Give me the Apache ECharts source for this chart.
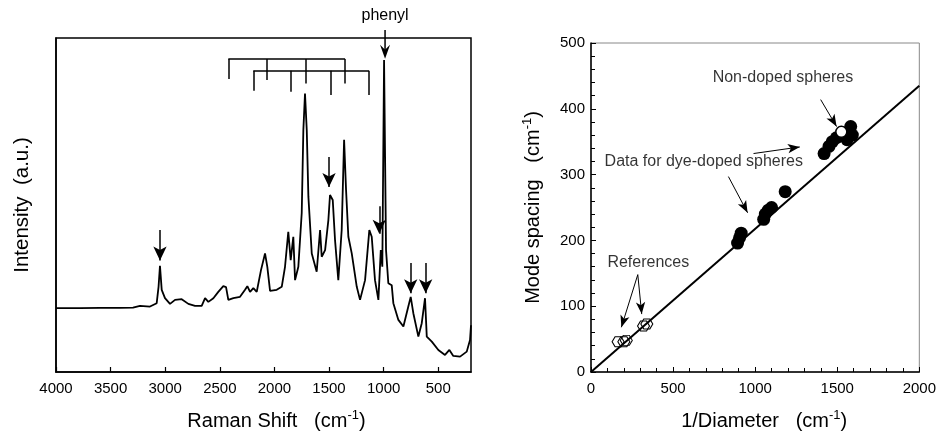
<!DOCTYPE html>
<html>
<head>
<meta charset="utf-8">
<script src="https://cdn.jsdelivr.net/npm/echarts@6/dist/echarts.min.js"></script>
<style>
html,body{margin:0;padding:0;background:#fff;}
#main{width:939px;height:437px;}
</style>
</head>
<body>
<div id="main"></div>
<script>
// ---------- Left panel: Raman spectrum ----------
const ramanShift = [4000,3780,3597,3414,3295,3231,3139,3078,3061,3048,3032,3002,2956,2910,2849,2788,2727,2666,2635,2605,2559,2514,2468,2443,2422,2376,2315,2269,2248,2223,2193,2162,2123,2086,2065,2040,1979,1933,1903,1873,1851,1827,1811,1781,1750,1735,1720,1704,1689,1658,1613,1582,1567,1536,1506,1491,1466,1445,1415,1384,1362,1344,1323,1292,1246,1216,1170,1131,1109,1079,1048,1026,1012,996,978,957,926,911,865,819,774,752,728,682,651,621,605,559,499,438,398,362,300,239,209,200];
const intensity = [19.1,19.1,19.2,19.2,19.3,19.8,19.6,20.6,25.5,31.8,24.6,22.1,20.4,21.6,21.8,20.4,19.8,19.8,22.1,21.0,22.1,24.0,25.7,25.4,21.6,22.1,22.5,24.6,25.7,24.0,25.1,24.0,30.5,35.5,31.5,24.3,24.6,25.5,31.5,42.0,33.5,40.5,27.5,31.5,47.6,72.5,83.4,72.5,52.5,35.5,30.0,42.5,34.5,36.5,45.5,53.0,51.5,39.5,27.5,42.5,69.5,54.5,40.5,35.5,25.5,21.6,27.5,42.5,40.5,27.5,21.6,36.5,31.5,93.4,36.5,26.6,26.0,20.6,15.6,13.6,19.6,22.5,17.6,10.6,14.6,22.1,10.6,9.1,6.6,5.1,6.6,4.8,4.6,6.1,9.6,14];
const ramanTicks = [4000,3500,3000,2500,2000,1500,1000,500];

// peak-marker arrows (wavenumber, start intensity, end intensity)
const peakArrowX = [3048, 1500, 1040, 752, 615];
const peakArrowFrom = [42.5, 64.4, 49.6, 32.6, 32.6];
const peakArrowTo = [33.4, 55.4, 41.4, 23.6, 23.6];
// phenyl arrow (starts above the frame)
const phenylArrow = {x: 987, from: 102.4, to: 93.8, label: 'phenyl', labelY: 106.6};
// mode-spacing brackets
const upperBracketX = [2422, 2070, 1710, 1353];
const upperBracketTop = 93.7;
const upperBracketEnds = [87.7, 87.4, 86.4, 86.4];
const lowerBracketX = [2193, 1848, 1484, 1134];
const lowerBracketTop = 90.2;
const lowerBracketEnds = [84.2, 83.9, 82.9, 82.9];

// ---------- Right panel: mode spacing ----------
const dyeX = [893, 905, 915, 1052, 1062, 1080, 1100, 1183, 1420, 1450, 1470, 1495, 1560, 1582, 1592];
const dyeY = [196, 204, 211, 232, 240, 246, 250, 274, 332, 343, 350, 356, 353, 373, 360];
const nonDopedX = [1525];
const nonDopedY = [365];
const refX = [165, 200, 215, 320, 340];
const refY = [46, 46, 48, 70, 73];
const fitX = [0, 2000];
const fitY = [0, 435];

const zip = (a, b) => a.map((v, i) => [v, b[i]]);
const FONT = 'Liberation Sans';
const black = '#000';

// markLine items for left panel
const leftMarks = [];
peakArrowX.forEach((x, i) => {
  leftMarks.push([{coord: [x, peakArrowFrom[i]]}, {coord: [x, peakArrowTo[i]]}]);
});
function bracket(xs, top, ends) {
  leftMarks.push([{coord: [xs[0], top], symbol: 'none'}, {coord: [xs[xs.length - 1], top], symbol: 'none'}]);
  xs.forEach((x, i) => leftMarks.push([{coord: [x, top], symbol: 'none'}, {coord: [x, ends[i]], symbol: 'none'}]));
}
bracket(upperBracketX, upperBracketTop, upperBracketEnds);
bracket(lowerBracketX, lowerBracketTop, lowerBracketEnds);

// right panel arrows
const rightArrows = [
  [[1399, 414], [1496, 373]],
  [[990, 332], [1272, 342]],
  [[837, 297], [954, 242]],
  [[285, 148], [185, 68]],
  [[285, 148], [309, 88]]
];
const rightLabels = [
  [1169, 447, 'Non-doped spheres'],
  [687, 320, 'Data for dye-doped spheres'],
  [349, 167, 'References']
];

const titleRich = {
  n: {fontSize: 20, fontFamily: FONT, color: black, lineHeight: 24},
  s: {fontSize: 13, fontFamily: FONT, color: black, verticalAlign: 'top', lineHeight: 24, padding: [0, 0, 10, 0]}
};
const plain = v => String(v);

const chart = echarts.init(document.getElementById('main'), null, {renderer: 'canvas'});
chart.setOption({
  animation: false,
  backgroundColor: '#fff',
  textStyle: {fontFamily: FONT},
  grid: [
    {left: 56, right: 468, top: 38, bottom: 65, show: true, borderColor: black, borderWidth: 1.5, backgroundColor: 'transparent'},
    {left: 591, right: 16, top: 43, bottom: 64, show: true, borderColor: '#888', borderWidth: 1, backgroundColor: 'transparent'}
  ],
  xAxis: [
    {
      gridIndex: 0, type: 'value', inverse: true, min: 200, max: 4000,
      axisLine: {lineStyle: {color: black, width: 1.5}},
      axisTick: {inside: true, length: 5, customValues: ramanTicks, lineStyle: {color: black, width: 1.2}},
      axisLabel: {customValues: ramanTicks, formatter: plain, fontSize: 15, color: black, fontFamily: FONT, margin: 9},
      splitLine: {show: false},
      name: '{n|Raman Shift   (cm}{s|-1}{n|)}',
      nameLocation: 'middle', nameGap: 37,
      nameTextStyle: {rich: titleRich, padding: [0, 0, 0, 26]}
    },
    {
      gridIndex: 1, type: 'value', min: 0, max: 2000, interval: 500,
      axisLine: {lineStyle: {color: black, width: 1.5}},
      axisTick: {inside: true, length: 5, lineStyle: {color: black}},
      minorTick: {show: true, splitNumber: 5, length: 4, lineStyle: {color: black}},
      axisLabel: {formatter: plain, fontSize: 15, color: black, fontFamily: FONT, margin: 9},
      splitLine: {show: false},
      name: '{n|1/Diameter   (cm}{s|-1}{n|)}',
      nameLocation: 'middle', nameGap: 37,
      nameTextStyle: {rich: titleRich, padding: [0, 0, 0, 18]}
    }
  ],
  yAxis: [
    {
      gridIndex: 0, type: 'value', min: 0, max: 100,
      axisLine: {show: true, lineStyle: {color: black, width: 1.5}},
      axisTick: {show: false}, axisLabel: {show: false}, splitLine: {show: false},
      name: 'Intensity  (a.u.)', nameLocation: 'middle', nameGap: 23,
      nameTextStyle: {fontSize: 20.5, fontFamily: FONT, color: black}
    },
    {
      gridIndex: 1, type: 'value', min: 0, max: 500, interval: 100,
      axisLine: {lineStyle: {color: black, width: 1.5}},
      axisTick: {inside: true, length: 5, lineStyle: {color: black}},
      minorTick: {show: true, splitNumber: 5, length: 4, lineStyle: {color: black}},
      axisLabel: {formatter: plain, fontSize: 15, color: black, fontFamily: FONT, margin: 6},
      splitLine: {show: false},
      name: '{n|Mode spacing   (cm}{s|-1}{n|)}',
      nameLocation: 'middle', nameGap: 46,
      nameTextStyle: {rich: titleRich}
    }
  ],
  series: [
    {
      type: 'line', xAxisIndex: 0, yAxisIndex: 0,
      data: zip(ramanShift, intensity),
      symbol: 'none', clip: false,
      lineStyle: {color: black, width: 1.8},
      markLine: {
        silent: true, animation: false,
        symbol: ['none', 'arrow'], symbolSize: [10, 14],
        lineStyle: {color: black, width: 1.5, type: 'solid'},
        label: {show: false},
        emphasis: {disabled: true},
        data: leftMarks
      }
    },
    {
      type: 'line', xAxisIndex: 1, yAxisIndex: 1,
      data: zip(fitX, fitY), symbol: 'none',
      lineStyle: {color: black, width: 2},
      markLine: {
        silent: true, animation: false,
        symbol: ['none', 'arrow'], symbolSize: [7, 12],
        lineStyle: {color: black, width: 1, type: 'solid'},
        label: {show: false},
        emphasis: {disabled: true},
        data: rightArrows.map(a => [{coord: a[0]}, {coord: a[1]}])
      }
    },
    {
      type: 'scatter', xAxisIndex: 1, yAxisIndex: 1,
      data: zip(dyeX, dyeY), symbol: 'circle', symbolSize: 13,
      itemStyle: {color: black, opacity: 1}
    },
    {
      type: 'scatter', xAxisIndex: 1, yAxisIndex: 1, z: 3,
      data: zip(nonDopedX, nonDopedY), symbol: 'circle', symbolSize: 11,
      itemStyle: {color: '#fff', borderColor: black, borderWidth: 1.5, opacity: 1}
    },
    {
      type: 'scatter', xAxisIndex: 1, yAxisIndex: 1,
      data: zip(refX, refY), symbol: 'path://M3,0 L9,0 L12,5 L9,10 L3,10 L0,5 Z', symbolSize: [12, 10],
      itemStyle: {color: 'transparent', borderColor: black, borderWidth: 1, opacity: 1}
    },
    {
      type: 'scatter', xAxisIndex: 1, yAxisIndex: 1,
      data: rightLabels, symbolSize: 0, silent: true,
      label: {show: true, position: 'inside', formatter: p => p.data[2], color: black, fontSize: 16, fontFamily: FONT}
    }
  ]
});

// phenyl arrow + label placed from data coordinates (sits above the frame, outside the axis range)
const finder = {xAxisIndex: 0, yAxisIndex: 0};
const pFrom = chart.convertToPixel(finder, [phenylArrow.x, phenylArrow.from]);
const pTo = chart.convertToPixel(finder, [phenylArrow.x, phenylArrow.to]);
const pLab = chart.convertToPixel(finder, [phenylArrow.x, phenylArrow.labelY]);
chart.setOption({
  graphic: [
    {type: 'line', shape: {x1: pFrom[0], y1: pFrom[1], x2: pTo[0], y2: pTo[1] - 6}, style: {stroke: black, lineWidth: 1.5}, silent: true},
    {type: 'polygon', shape: {points: [[pTo[0] - 5, pTo[1] - 14], [pTo[0], pTo[1]], [pTo[0] + 5, pTo[1] - 14], [pTo[0], pTo[1] - 9]]}, style: {fill: black}, silent: true},
    {type: 'text', x: pLab[0], y: pLab[1], style: {text: phenylArrow.label, fill: black, font: '16px "Liberation Sans"', align: 'center', verticalAlign: 'middle'}, silent: true}
  ]
});
</script>
</body>
</html>
